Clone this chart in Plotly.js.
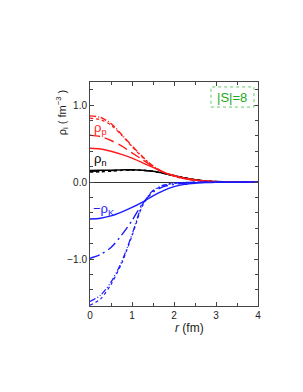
<!DOCTYPE html>
<html><head><meta charset="utf-8">
<script src="https://cdn.plot.ly/plotly-3.0.1.min.js"></script>
<style>html,body{margin:0;padding:0;background:#fff}#chart{width:303px;height:392px}</style>
</head><body><div id="chart"></div>
<script>
var r = [0, 0.25, 0.5, 0.75, 1.0, 1.25, 1.5, 1.75, 2.0, 2.25, 2.5, 2.75, 3.0, 3.5, 4.0];

var rhoP_solid   = [0.44, 0.43, 0.40, 0.36, 0.31, 0.25, 0.19, 0.13, 0.085, 0.05, 0.028, 0.014, 0.006, 0.001, 0];
var rhoP_dash    = [0.61, 0.59, 0.54, 0.47, 0.38, 0.29, 0.20, 0.13, 0.08, 0.046, 0.025, 0.012, 0.005, 0.001, 0];
var rhoP_dashdot = [0.86, 0.84, 0.76, 0.62, 0.47, 0.33, 0.21, 0.13, 0.08, 0.045, 0.025, 0.012, 0.005, 0.001, 0];
var rhoP_dot     = [0.83, 0.81, 0.74, 0.61, 0.46, 0.32, 0.20, 0.125, 0.075, 0.043, 0.024, 0.011, 0.005, 0.001, 0];

var rhoN_solid   = [0.15, 0.152, 0.155, 0.158, 0.16, 0.155, 0.14, 0.115, 0.085, 0.055, 0.03, 0.015, 0.006, 0.001, 0];
var rhoN_dash    = [0.14, 0.143, 0.148, 0.155, 0.158, 0.153, 0.138, 0.112, 0.082, 0.053, 0.029, 0.014, 0.006, 0.001, 0];
var rhoN_dot     = [0.13, 0.134, 0.142, 0.152, 0.158, 0.154, 0.139, 0.113, 0.083, 0.054, 0.03, 0.015, 0.006, 0.001, 0];

var rhoK_solid   = [-0.48, -0.47, -0.44, -0.39, -0.33, -0.26, -0.18, -0.11, -0.06, -0.03, -0.015, -0.007, -0.003, -0.001, 0];
var rhoK_dashdot = [-0.99, -0.94, -0.85, -0.69, -0.50, -0.28, -0.13, -0.06, -0.03, -0.015, -0.007, -0.003, -0.001, 0, 0];
var rhoK_dot1    = [-1.55, -1.47, -1.30, -1.04, -0.68, -0.29, -0.11, -0.04, -0.014, -0.005, -0.002, -0.001, 0, 0, 0];
var rhoK_dot2    = [-1.60, -1.52, -1.33, -1.06, -0.70, -0.31, -0.12, -0.045, -0.016, -0.006, -0.002, -0.001, 0, 0, 0];

var xTicks = [0, 1, 2, 3, 4];
var yTickVals = [-1.0, 0.0, 1.0];
var yTickText = ["\u22121.0", "0.0", "1.0"];

var RED = "#ff1a1a", BLUE = "#1a1aff", BLACK = "#000000";
function tr(y, color, dash, w) {
  return {x: r, y: y, type: "scatter", mode: "lines",
          line: {color: color, dash: dash, width: w || 1.4, shape: "spline", smoothing: 0.8},
          hoverinfo: "skip", showlegend: false};
}
var data = [
  tr(rhoN_solid, BLACK, "solid", 1.5), tr(rhoN_dash, BLACK, "dash", 1.3), tr(rhoN_dot, BLACK, "dot", 1.5),
  tr(rhoP_solid, RED, "solid"), tr(rhoP_dash, RED, "10px,5px"), tr(rhoP_dashdot, RED, "6px,2px,1px,2px"), tr(rhoP_dot, RED, "dot", 1.2),
  tr(rhoK_solid, BLUE, "solid"), tr(rhoK_dashdot, BLUE, "10px,4px,2px,4px"), tr(rhoK_dot1, BLUE, "6px,2px,1px,2px,1px,2px", 1.2), tr(rhoK_dot2, BLUE, "dot", 1.2)
];

var axisCommon = {showline: true, linecolor: "#444", linewidth: 1, mirror: "ticks", ticks: "inside",
  ticklen: 4, tickcolor: "#444", showgrid: false, tickfont: {family: "Liberation Sans, Arial", size: 10, color: "#222"}};

function ann(o) { return Object.assign({showarrow: false, xanchor: "center", yanchor: "middle"}, o); }

var layout = {
  width: 303, height: 392,
  margin: {l: 90, r: 45, t: 82, b: 86},
  paper_bgcolor: "#fff", plot_bgcolor: "#fff",
  xaxis: Object.assign({}, axisCommon, {range: [0, 4], tickvals: xTicks, ticktext: xTicks.map(String),
    zeroline: false, minor: {dtick: 0.5, ticks: "inside", ticklen: 3, tickcolor: "#444"}}),
  yaxis: Object.assign({}, axisCommon, {range: [-1.61, 1.3], tickvals: yTickVals, ticktext: yTickText,
    zeroline: true, zerolinecolor: "#333", zerolinewidth: 1,
    minor: {tickvals: [-1.6,-1.4,-1.2,-0.8,-0.6,-0.4,-0.2,0.2,0.4,0.6,0.8,1.2], ticks: "inside", ticklen: 3, tickcolor: "#444"}}),
  shapes: [{type: "rect", xref: "paper", yref: "paper", x0: 0.72, x1: 0.976, y0: 0.888, y1: 0.978,
    line: {color: "#66cc66", width: 1, dash: "dot"}, fillcolor: "rgba(0,0,0,0)"}],
  annotations: [
    ann({xref: "paper", yref: "paper", x: 0.848, y: 0.933, text: "|S|=8",
     font: {family: "Liberation Sans, Arial", size: 13, color: "#22aa22"}}),
    ann({xref: "x", yref: "y", x: 0.05, y: 0.70, xanchor: "left", text: "\u03c1<sub>p</sub>",
     font: {family: "Liberation Sans, Arial", size: 13, color: RED}}),
    ann({xref: "x", yref: "y", x: 0.05, y: 0.29, xanchor: "left", text: "\u03c1<sub>n</sub>",
     font: {family: "Liberation Sans, Arial", size: 13, color: BLACK}}),
    ann({xref: "x", yref: "y", x: 0.03, y: -0.36, xanchor: "left", text: "\u2212\u03c1<sub>K</sub>",
     font: {family: "Liberation Sans, Arial", size: 13, color: BLUE}}),
    ann({xref: "paper", yref: "paper", x: -0.165, y: 0.862, text: "\u03c1<sub>i</sub> ( fm<sup>\u22123</sup> )", textangle: -90,
     font: {family: "Liberation Sans, Arial", size: 11, color: "#222"}}),
    ann({xref: "paper", yref: "paper", x: 0.59, y: -0.098, text: "<i>r</i> (fm)",
     font: {family: "Liberation Sans, Arial", size: 12, color: "#222"}})
  ]
};
Plotly.newPlot("chart", data, layout, {staticPlot: true, displayModeBar: false});
</script></body></html>
